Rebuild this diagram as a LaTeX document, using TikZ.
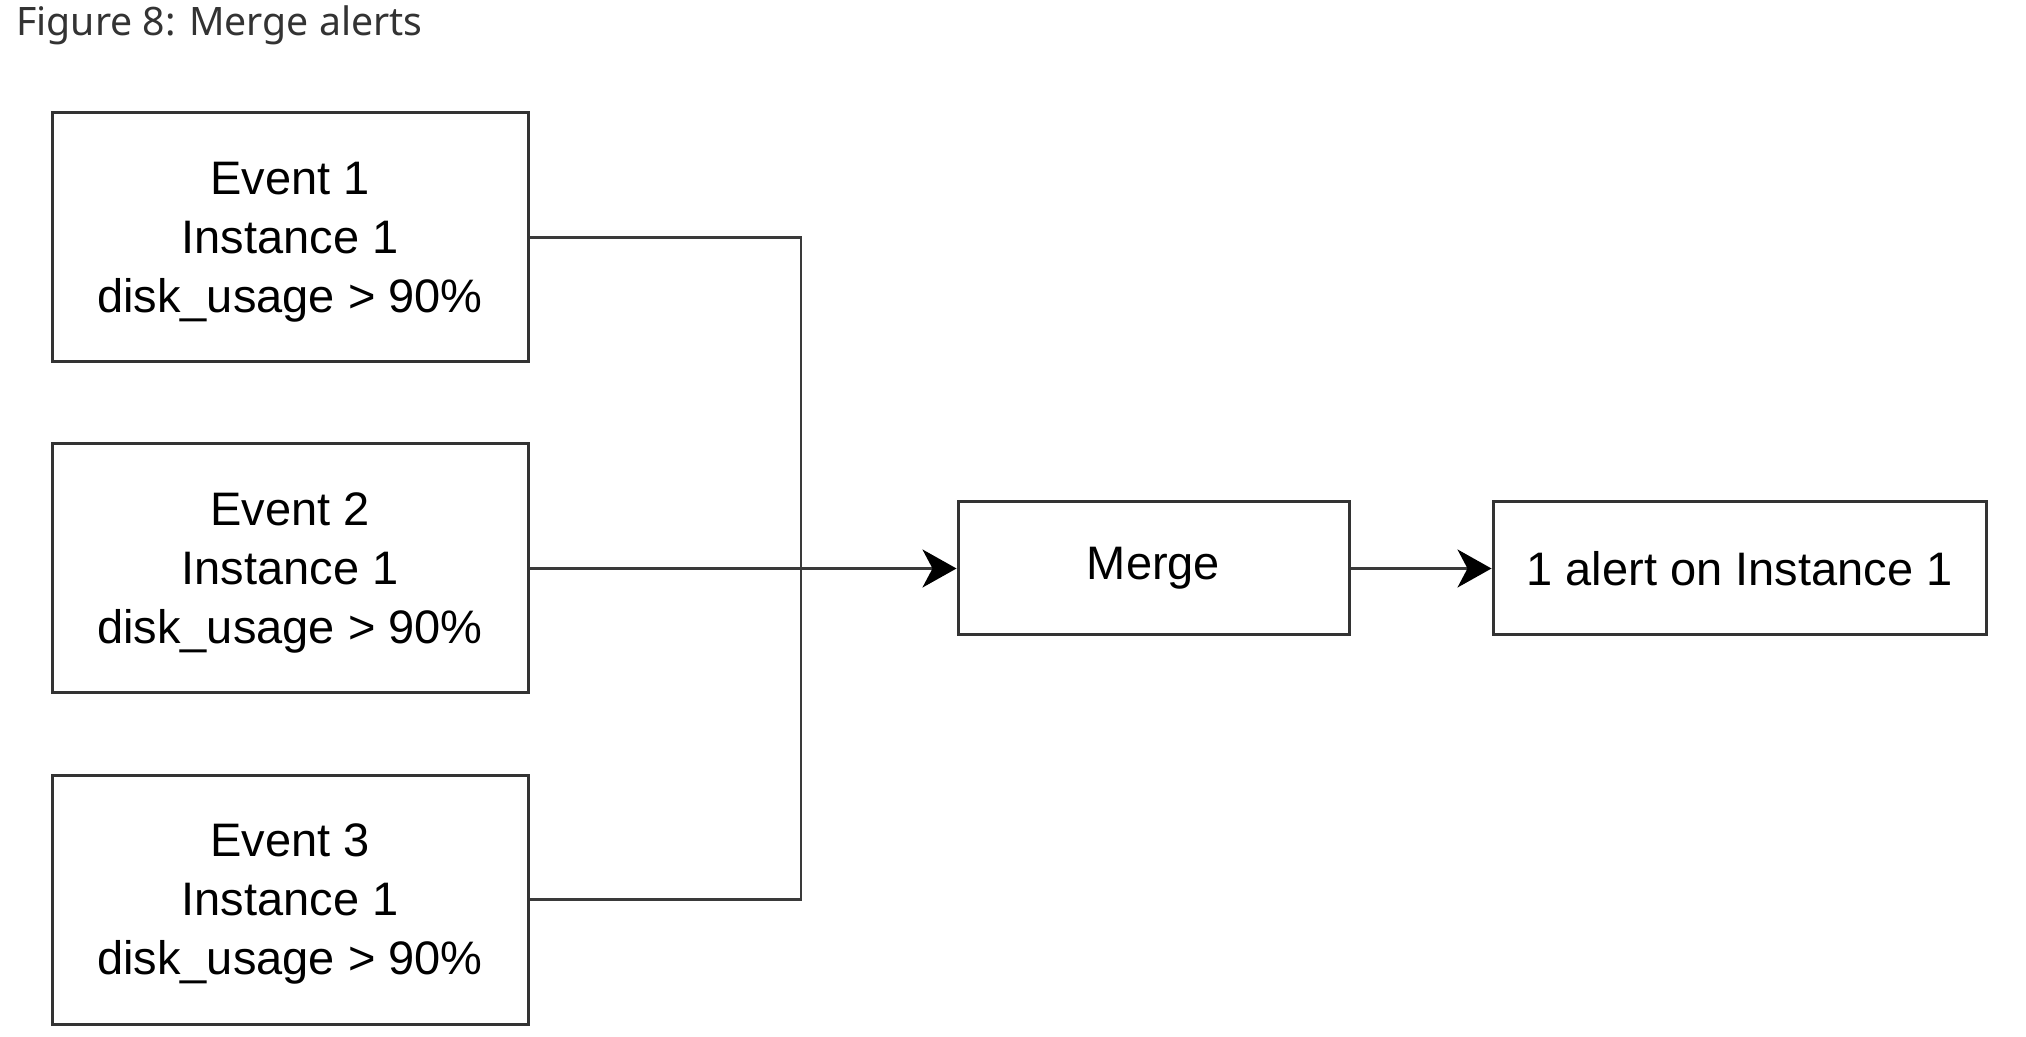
\documentclass[tikz,border=0pt]{standalone}
\usepackage{fontspec}
\setmainfont{Liberation Sans}
\newfontfamily\titlefont{Noto Sans}
\usepackage{tikz}
\usetikzlibrary{positioning,arrows.meta}
\definecolor{boxline}{HTML}{333333}
\definecolor{wire}{HTML}{3A3A3A}
\definecolor{captext}{HTML}{333333}

\begin{document}
\begin{tikzpicture}
	[x=0.5pt,y=-0.5pt,>={Stealth[length=17pt,width=19pt,inset=5pt,color=black]},
	 line width=1.25pt,draw=wire,node distance=165.5pt]
	\tikzstyle{block}=[draw=boxline,line width=1.5pt,fill=white,align=center,
		inner sep=0pt,font=\fontsize{23.5}{29.5}\selectfont]
	\tikzstyle{event}=[block,minimum width=238pt,minimum height=124.5pt,text depth=0pt]
	\tikzstyle{step box}=[block,minimum height=66.5pt]

	\useasboundingbox (0,0) rectangle (2026,1037);
	\node[anchor=base west,inner sep=0pt,text=captext,font=\titlefont\fontsize{19.6}{23}\selectfont]
		(title) at (15,36) {Figure 8: Merge alerts};

	\node[event] (E1) at (290,237.5) {Event 1\\Instance 1\\disk\_usage > 90\%};
	\node[event] (E2) [below of=E1]  {Event 2\\Instance 1\\disk\_usage > 90\%};
	\node[event] (E3) [below of=E2]  {Event 3\\Instance 1\\disk\_usage > 90\%};
	\node[step box,minimum width=195.5pt] (merge) [right of=E2,node distance=431.75pt] {Merge};
	\node[step box,minimum width=246.5pt] (alert) [right of=merge,node distance=293pt] {1 alert on Instance 1};
	\coordinate (join) at (801,567.5);

	\draw (E1.east) -| (join);
	\draw (E3.east) -| (join);
	\draw[->] (E2) -- (merge);
	\draw[->] (merge) -- (alert);
\end{tikzpicture}
\end{document}
